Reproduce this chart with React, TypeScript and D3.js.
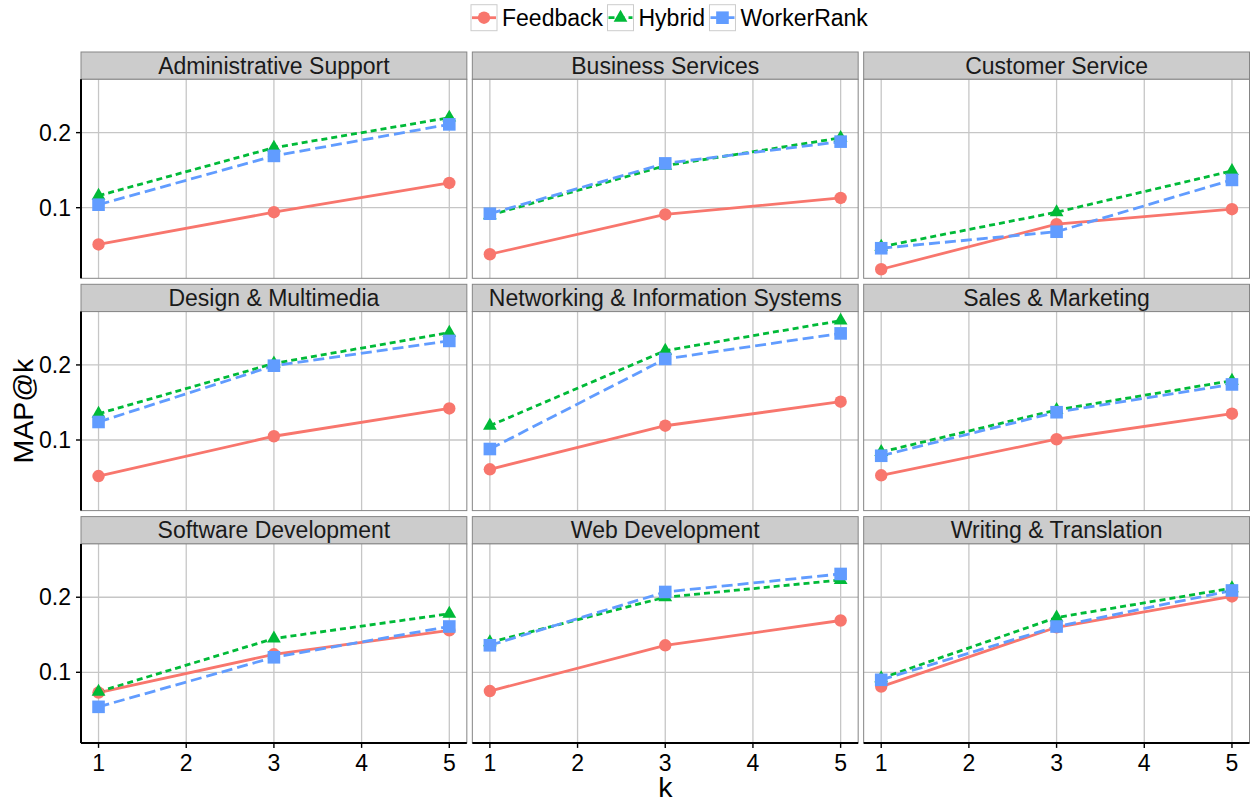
import React from "react";
import * as d3 from "d3";

// facets, in reading order
const categories = [
  "Administrative Support",
  "Business Services",
  "Customer Service",
  "Design & Multimedia",
  "Networking & Information Systems",
  "Sales & Marketing",
  "Software Development",
  "Web Development",
  "Writing & Translation",
];
const kValues = [1, 3, 5];
const xTicks = [1, 2, 3, 4, 5];
const yTicks = [0.1, 0.2];

// MAP@k per category at k = 1, 3, 5
const feedback = [
  [0.051, 0.094, 0.133],
  [0.038, 0.091, 0.113],
  [0.018, 0.078, 0.098],
  [0.052, 0.105, 0.142],
  [0.061, 0.119, 0.151],
  [0.053, 0.101, 0.135],
  [0.073, 0.124, 0.156],
  [0.075, 0.136, 0.169],
  [0.081, 0.16, 0.201],
];
const hybrid = [
  [0.116, 0.18, 0.22],
  [0.09, 0.156, 0.193],
  [0.048, 0.094, 0.149],
  [0.135, 0.202, 0.243],
  [0.119, 0.219, 0.259],
  [0.084, 0.14, 0.179],
  [0.074, 0.145, 0.178],
  [0.14, 0.2, 0.223],
  [0.092, 0.173, 0.212],
];
const workerRank = [
  [0.104, 0.169, 0.211],
  [0.092, 0.159, 0.188],
  [0.046, 0.068, 0.137],
  [0.124, 0.199, 0.232],
  [0.088, 0.208, 0.242],
  [0.079, 0.137, 0.174],
  [0.054, 0.12, 0.161],
  [0.136, 0.207, 0.231],
  [0.09, 0.161, 0.209],
];

const seriesNames = ["Feedback", "Hybrid", "WorkerRank"];
const seriesData = [feedback, hybrid, workerRank];
const colors = ["#F8766D", "#00BA38", "#619CFF"];
const dashes = ["none", "6,4", "11,5"];

const W = 1252;
const H = 804;
const FONT = "'Liberation Sans', Arial, Helvetica, sans-serif";

const left = 81;
const right = 1249.5;
const top = 52;
const colGap = 5.5;
const rowGap = 6;
const stripH = 27.3;
const panelH = 199;
const panelW = (right - left - 2 * colGap) / 3;

function Marker({ i, x, y }: { i: number; x: number; y: number }) {
  if (i === 0) return <circle cx={x} cy={y} r={6.2} fill={colors[0]} />;
  if (i === 1)
    return (
      <path
        d={d3.symbol(d3.symbolTriangle, 82)() as string}
        transform={`translate(${x},${y})`}
        fill={colors[1]}
      />
    );
  return <rect x={x - 6.3} y={y - 6.3} width={12.6} height={12.6} fill={colors[2]} />;
}

function measure(text: string, size: number) {
  const ctx = document.createElement("canvas").getContext("2d");
  if (!ctx) return text.length * size * 0.55;
  ctx.font = `${size}px 'Liberation Sans', Arial`;
  return ctx.measureText(text).width;
}

export default function App() {
  const all = seriesData.flat(2);
  const lo = d3.min(all) as number;
  const hi = d3.max(all) as number;
  const pad = (hi - lo) * 0.05;

  const x = d3.scaleLinear().domain([0.8, 5.2]).range([0, panelW]);
  const y = d3.scaleLinear().domain([lo - pad, hi + pad]).range([panelH, 0]);

  const line = d3
    .line<number>()
    .x((_, j) => x(kValues[j]))
    .y((d) => y(d));

  // legend layout
  let lx = 471;
  const legendItems = seriesNames.map((name, i) => {
    const item = { name, i, x: lx };
    lx += 26 + 5 + measure(name, 23) + 4.5;
    return item;
  });

  const bottomY = top + 3 * (stripH + panelH) + 2 * rowGap;

  return (
    <svg
      width={W}
      height={H}
      style={{ position: "absolute", left: 0, top: 0, background: "#fff" }}
      fontFamily={FONT}
    >
      {/* legend */}
      {legendItems.map((it) => (
        <g key={it.name} transform={`translate(${it.x},4.7)`}>
          <rect x={0} y={0} width={26} height={26} fill="#fff" stroke="#cccccc" strokeWidth={1} />
          <line
            x1={1}
            x2={25}
            y1={13}
            y2={13}
            stroke={colors[it.i]}
            strokeWidth={2.8}
            strokeDasharray={dashes[it.i]}
          />
          <Marker i={it.i} x={13} y={13} />
          <text x={31} y={13} dy="0.35em" fontSize={23} fill="#000">
            {it.name}
          </text>
        </g>
      ))}

      {categories.map((cat, c) => {
        const col = c % 3;
        const row = Math.floor(c / 3);
        const px = left + col * (panelW + colGap);
        const sy = top + row * (stripH + panelH + rowGap);
        const py = sy + stripH;
        return (
          <g key={cat}>
            {/* strip */}
            <rect x={px} y={sy} width={panelW} height={stripH} fill="#cccccc" stroke="#858585" strokeWidth={1} />
            <text
              x={px + panelW / 2}
              y={sy + stripH / 2}
              dy="0.35em"
              textAnchor="middle"
              fontSize={23}
              fill="#1a1a1a"
            >
              {cat}
            </text>
            <g transform={`translate(${px},${py})`}>
              <rect x={0} y={0} width={panelW} height={panelH} fill="#fff" />
              {xTicks.map((t) => (
                <line key={"gx" + t} x1={x(t)} x2={x(t)} y1={0} y2={panelH} stroke="#c6c6c6" strokeWidth={1.3} />
              ))}
              {yTicks.map((t) => (
                <line key={"gy" + t} x1={0} x2={panelW} y1={y(t)} y2={y(t)} stroke="#c6c6c6" strokeWidth={1.3} />
              ))}
              {seriesData.map((s, i) => (
                <path
                  key={"l" + i}
                  d={line(s[c]) as string}
                  fill="none"
                  stroke={colors[i]}
                  strokeWidth={2.8}
                  strokeDasharray={dashes[i]}
                />
              ))}
              {seriesData.map((s, i) =>
                s[c].map((v, j) => <Marker key={`p${i}-${j}`} i={i} x={x(kValues[j])} y={y(v)} />)
              )}
              <rect x={0} y={0} width={panelW} height={panelH} fill="none" stroke="#858585" strokeWidth={1} />
              {col === 0 && (
                <g>
                  <line x1={0} x2={0} y1={0} y2={panelH} stroke="#000" strokeWidth={2} />
                  {yTicks.map((t) => (
                    <g key={"ty" + t}>
                      <line x1={-5} x2={0} y1={y(t)} y2={y(t)} stroke="#000" strokeWidth={1.4} />
                      <text x={-10} y={y(t)} dy="0.35em" textAnchor="end" fontSize={23} fill="#000">
                        {d3.format(".1f")(t)}
                      </text>
                    </g>
                  ))}
                </g>
              )}
              {row === 2 && (
                <g>
                  <line x1={0} x2={panelW} y1={panelH} y2={panelH} stroke="#000" strokeWidth={2} />
                  {xTicks.map((t) => (
                    <g key={"tx" + t}>
                      <line x1={x(t)} x2={x(t)} y1={panelH} y2={panelH + 5} stroke="#000" strokeWidth={1.4} />
                      <text x={x(t)} y={panelH + 28} textAnchor="middle" fontSize={23} fill="#000">
                        {t}
                      </text>
                    </g>
                  ))}
                </g>
              )}
            </g>
          </g>
        );
      })}

      {/* axis titles */}
      <text x={(left + right) / 2} y={bottomY + 54} textAnchor="middle" fontSize={28.5} fill="#000">
        k
      </text>
      <text
        transform={`translate(33,${(top + stripH + bottomY) / 2}) rotate(-90)`}
        textAnchor="middle"
        fontSize={28.5}
        fill="#000"
      >
        MAP@k
      </text>
    </svg>
  );
}
